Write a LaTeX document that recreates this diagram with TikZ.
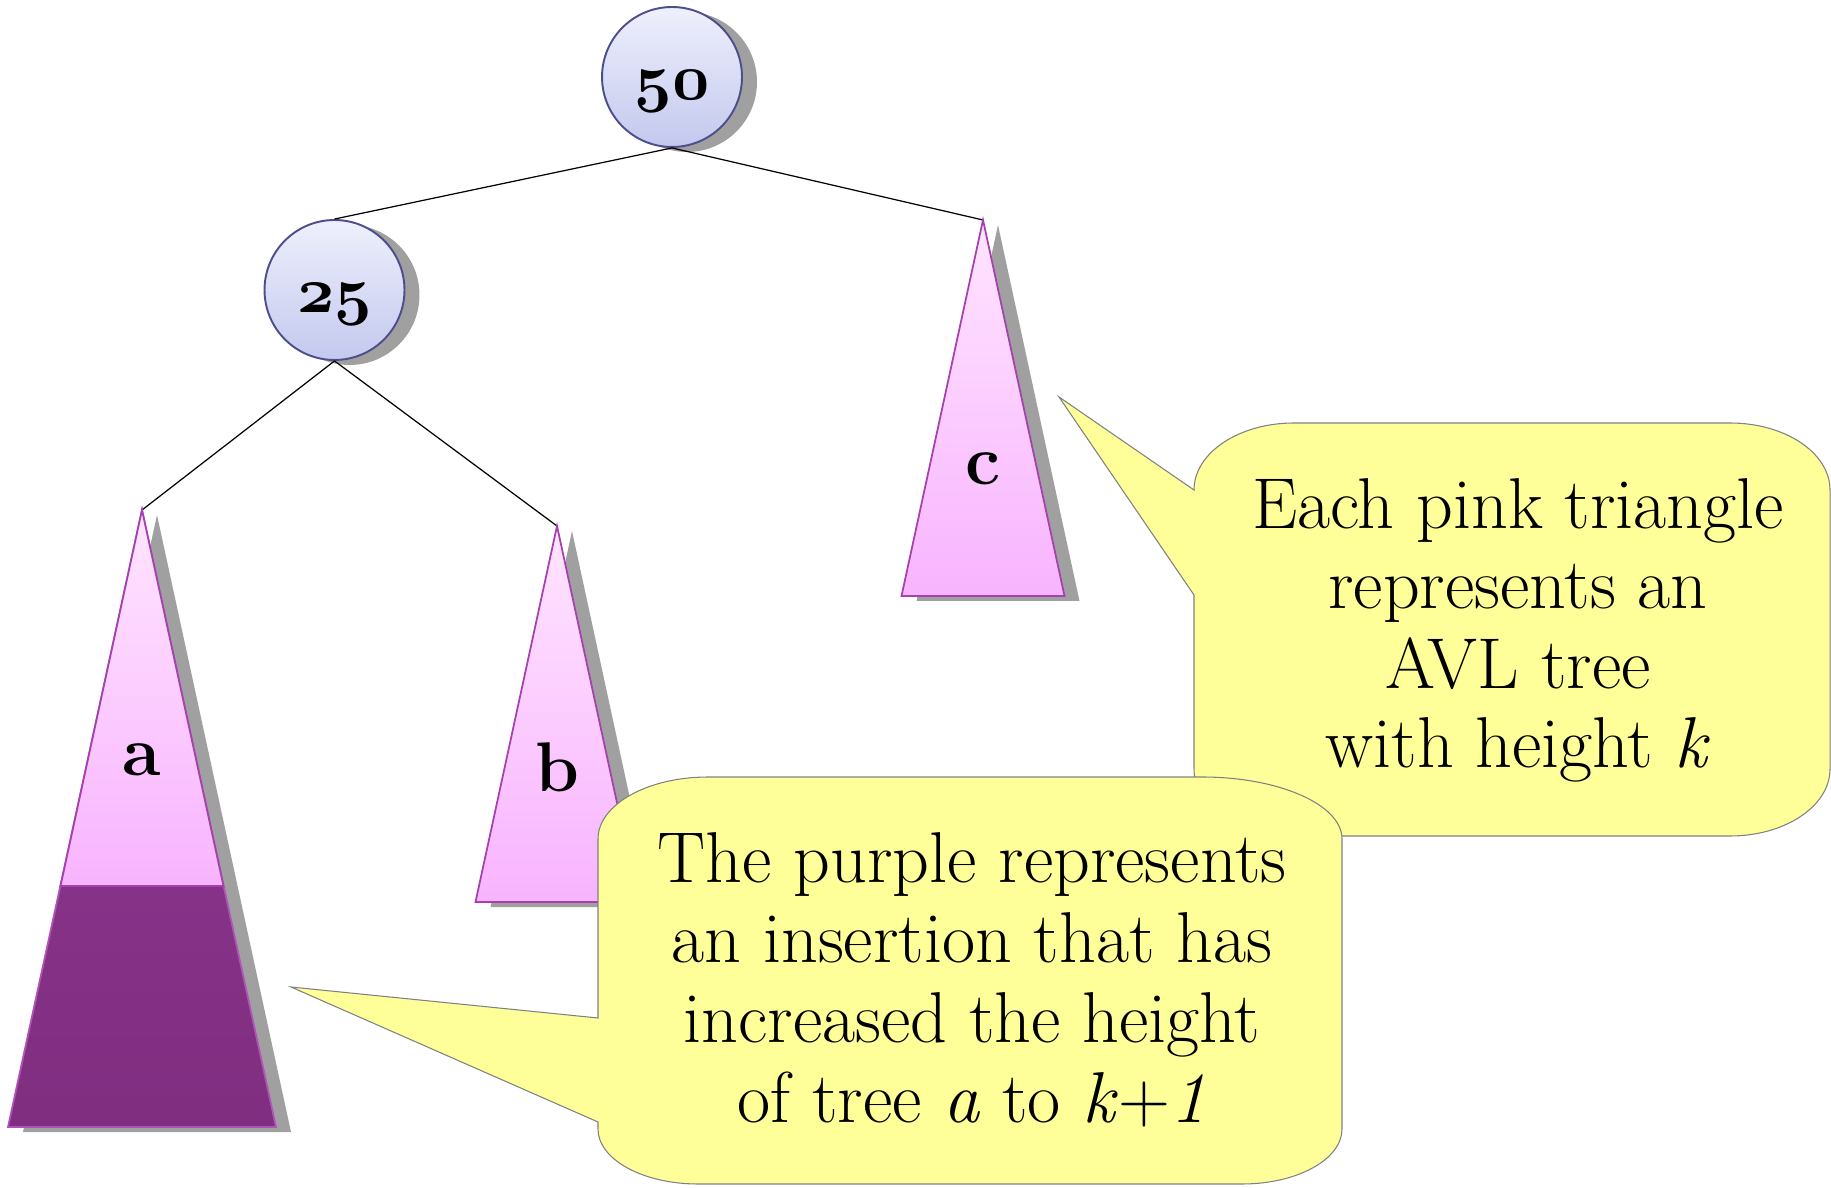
\documentclass[tikz,border=0pt]{standalone}
\usepackage{tikz}
\usetikzlibrary{shadows}

\definecolor{nodetop}{RGB}{238,240,252}
\definecolor{nodebot}{RGB}{196,200,238}
\definecolor{nodeline}{RGB}{78,78,140}
\definecolor{pinktop}{RGB}{255,228,255}
\definecolor{pinkbot}{RGB}{248,180,255}
\definecolor{pinkline}{RGB}{165,65,175}
\definecolor{purptop}{RGB}{144,56,148}
\definecolor{purpbot}{RGB}{128,46,128}
\definecolor{purpline}{RGB}{175,85,185}
\definecolor{shadowgray}{RGB}{160,160,160}
\definecolor{notefill}{RGB}{255,255,153}
\definecolor{noteline}{RGB}{128,128,128}

\DeclareFontFamily{OML}{keycmm}{\skewchar\font127 }
\DeclareFontShape{OML}{keycmm}{b}{it}{<->cmmib10}{}
\newcommand\keynum[1]{{\usefont{OML}{keycmm}{b}{it}#1}}

\begin{document}
\begin{tikzpicture}[x=0.02cm,y=0.02cm,
  dropgray/.style={drop shadow={shadow xshift=0.3cm,shadow yshift=-0.1cm,fill=shadowgray,opacity=1}},
  treenode/.style={circle,draw=nodeline,line width=1.1pt,top color=nodetop,bottom color=nodebot,
    minimum size=2.8cm,inner sep=0pt,text height=0.92cm,text depth=0pt,dropgray,
    font=\fontsize{37}{40}\selectfont},
  edge/.style={line width=0.7pt},
  subtree/.style={draw=pinkline,line width=1pt,top color=pinktop,bottom color=pinkbot},
  treelabel/.style={anchor=base,font=\fontsize{40}{44}\selectfont\bfseries},
  bubble/.style={draw=noteline,fill=notefill,line width=0.6pt},
  bubbletext/.style={align=center,anchor=base,font=\fontsize{41}{45.5}\selectfont}]
\useasboundingbox (0,0) rectangle (1831,1187);

\node[treenode] (n50) at (672,1110) {\keynum{50}};
\node[treenode] (n25) at (334.5,897) {\keynum{25}};

\coordinate (apexa) at (142,677);
\coordinate (apexb) at (557,661);
\coordinate (apexc) at (983,967);

\draw[edge] (n50.south) -- (n25.north);
\draw[edge] (n50.south) -- (apexc);
\draw[edge] (n25.south) -- (apexa);
\draw[edge] (n25.south) -- (apexb);

\path[draw=purpline,line width=1pt,top color=purptop,bottom color=purpbot,dropgray]
  (apexa) -- (8,60) -- (276,60) -- cycle;
\path[subtree] (apexa) -- (60.5,301) -- (223.5,301) -- cycle;
\path[subtree,dropgray] (apexb) -- (475.5,285) -- (638.5,285) -- cycle;
\path[subtree,dropgray] (apexc) -- (901.5,591) -- (1064.5,591) -- cycle;

\node[treelabel] (la) at (142,412) {a};
\node[treelabel] (lb) at (557,396) {b};
\node[treelabel] (lc) at (983,702) {c};

\draw[bubble] (1194,592) -- (1059,790) -- (1194,697)
  arc[start angle=180,end angle=90,x radius=100,y radius=67] -- (1730,764)
  arc[start angle=90,end angle=0,x radius=100,y radius=67] -- (1830,418)
  arc[start angle=0,end angle=-90,x radius=100,y radius=67] -- (1294,351)
  arc[start angle=270,end angle=180,x radius=100,y radius=67] -- cycle;
\node[bubbletext] (t1) at (1518,419) {Each pink triangle\\represents an\\AVL tree\\with height \textit{k}};

\draw[bubble] (598,65) -- (291,200) -- (598,169) -- (598,348)
  arc[start angle=180,end angle=90,x radius=110,y radius=62] -- (1202,410)
  arc[start angle=90,end angle=0,x radius=140,y radius=62] -- (1342,58)
  arc[start angle=0,end angle=-90,x radius=100,y radius=55] -- (698,3)
  arc[start angle=270,end angle=180,x radius=100,y radius=55] -- cycle;
\node[bubbletext] (t2) at (972,65) {The purple represents\\an insertion that has\\increased the height\\of tree \textit{a} to \textit{k}+\textit{1}};
\end{tikzpicture}
\end{document}
